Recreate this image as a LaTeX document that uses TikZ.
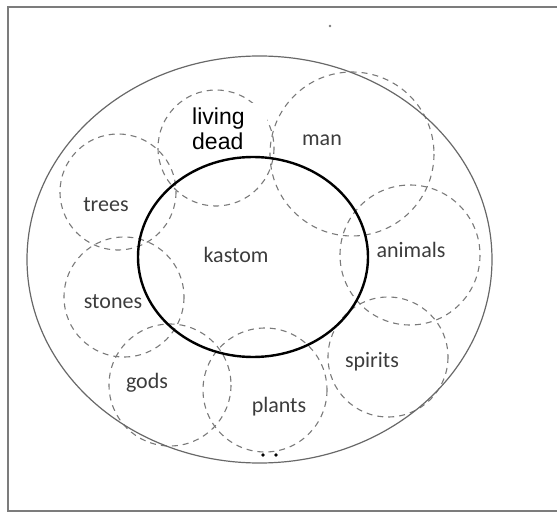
\documentclass[tikz,border=0pt]{standalone}
\usepackage{fontspec}
\setmainfont{Carlito}
\newfontfamily\arialfont{Liberation Sans}
\usepackage{tikz}
\usetikzlibrary{positioning}
\definecolor{labelgray}{HTML}{3C3C3C}
\definecolor{ringgray}{HTML}{7A7A7A}
\definecolor{framegray}{HTML}{7C7C7C}

\begin{document}
\begin{tikzpicture}[
    x=1pt, y=-1pt,
    ring/.style={draw=ringgray, line width=1.1pt, dash pattern=on 6pt off 5pt},
    kring/.style={draw=black, line width=2.4pt},
    outer/.style={draw=ringgray!85!black, line width=1.2pt},
    lbl/.style={font=\fontsize{22}{26}\selectfont, text=labelgray, inner sep=0pt},
    ldbox/.style={fill=white, anchor=north west, align=left, text width=66pt,
                  inner xsep=9pt, inner ysep=5pt, font=\arialfont\fontsize{23}{25}\selectfont},
]
\useasboundingbox (0,0) rectangle (557,513);

% ---- Rahmen ----
\draw[framegray, line width=2.6pt] (560,7) -- (8,7) -- (8,511) -- (560,511);

% ---- gestrichelte Kreise ----
\draw[ring] (216,148) circle[radius=58];  % living dead
\draw[ring] (352,154) circle[radius=82];  % man
\draw[ring] (118,192) circle[radius=58];  % trees
\draw[ring] (410,255) circle[radius=70];  % animals
\draw[ring] (124,297) circle[radius=60];  % stones
\draw[ring] (388,357) circle[radius=60];  % spirits
\draw[ring] (170,385) circle[radius=61];  % gods
\draw[ring] (265,390) circle[radius=62];  % plants

% ---- kastom und Aussenring ----
\draw[kring] (253,257) ellipse[x radius=115, y radius=100];
\draw[outer] (259.5,259.5) ellipse[x radius=232.5, y radius=203.5];

% kleine Punkte
\fill[ringgray] (330,26) circle[radius=1.3];
\fill[black] (263,455) circle[radius=1.8];
\fill[black] (276,455) circle[radius=1.8];

% ---- Beschriftungen ----
\node[ldbox] (livingdead) at (183,103) {living\\dead};
\node[lbl] (kastom)  at (236,255) {kastom};
\node[lbl] (man)     at (322,140) {man};
\node[lbl] (trees)   at (106,205) {trees};
\node[lbl] (animals) at (411,250) {animals};
\node[lbl] (stones)  at (113,302) {stones};
\node[lbl] (spirits) at (372,362) {spirits};
\node[lbl] (gods)    at (147,383) {gods};
\node[lbl] (plants)  at (279,407) {plants};

\end{tikzpicture}
\end{document}
